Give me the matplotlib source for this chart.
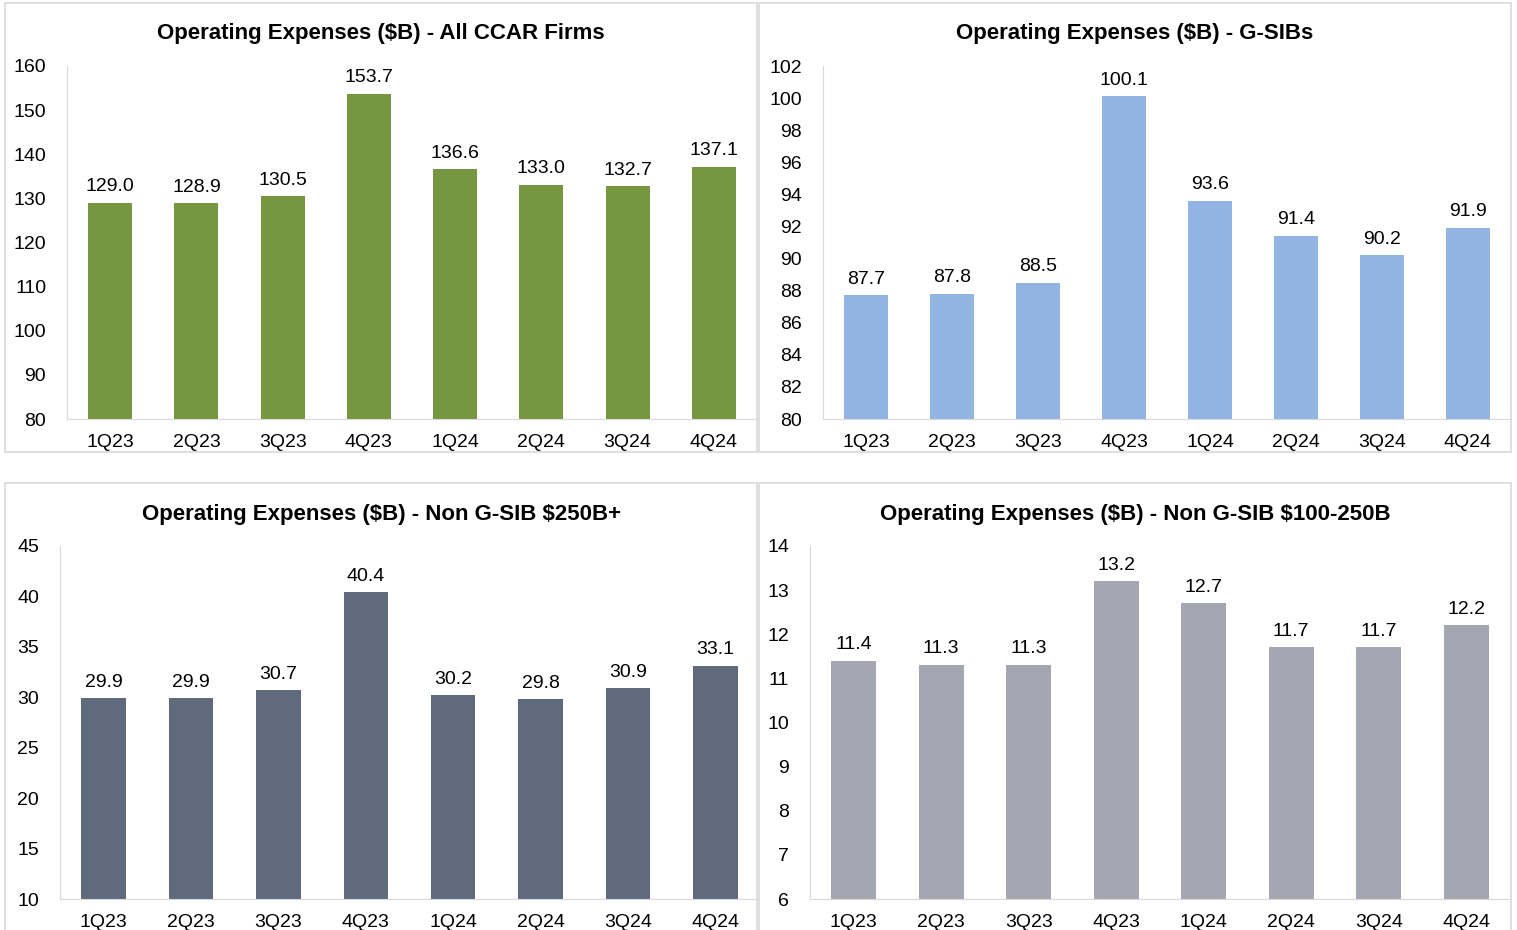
import matplotlib.pyplot as plt
from matplotlib.patches import Rectangle

plt.rcParams['font.family'] = ['Liberation Sans', 'DejaVu Sans']

quarters = ['1Q23', '2Q23', '3Q23', '4Q23', '1Q24', '2Q24', '3Q24', '4Q24']

all_ccar = [129.0, 128.9, 130.5, 153.7, 136.6, 133.0, 132.7, 137.1]
gsibs = [87.7, 87.8, 88.5, 100.1, 93.6, 91.4, 90.2, 91.9]
non_gsib_250 = [29.9, 29.9, 30.7, 40.4, 30.2, 29.8, 30.9, 33.1]
non_gsib_100 = [11.4, 11.3, 11.3, 13.2, 12.7, 11.7, 11.7, 12.2]

titles = [r'Operating Expenses (\$B) - All CCAR Firms',
          r'Operating Expenses (\$B) - G-SIBs',
          r'Operating Expenses (\$B) - Non G-SIB \$250B+',
          r'Operating Expenses (\$B) - Non G-SIB \$100-250B']

W, H = 1517, 930
fig = plt.figure(figsize=(W / 100, H / 100), dpi=100)

# panel boxes (pixels: left, top, right, bottom)
panels = [(5, 3, 757, 452), (759, 3, 1511, 452),
          (5, 483, 757, 935), (759, 483, 1511, 935)]
for l, t, r, b in panels:
    fig.patches.append(Rectangle((l / W, 1 - b / H), (r - l) / W, (b - t) / H,
                                 transform=fig.transFigure, fill=False,
                                 edgecolor='#d9d9d9', linewidth=1.2))

# axes positions in pixels: left, top, right, bottom
axes_px = [(67, 66, 757, 419), (823, 66, 1511, 419),
           (60, 546, 759, 899), (810, 546, 1510, 899)]
series = [all_ccar, gsibs, non_gsib_250, non_gsib_100]
colors = ['#76973f', '#92b4e2', '#5f6b7d', '#a4a6b2']
ylims = [(80, 160), (80, 102), (10, 45), (6, 14)]
ysteps = [10, 2, 5, 1]
title_y = [33, 33, 514, 514]

for i in range(4):
    l, t, r, b = axes_px[i]
    ax = fig.add_axes([l / W, 1 - b / H, (r - l) / W, (b - t) / H])
    x = range(len(quarters))
    ax.bar(x, series[i], width=0.51, color=colors[i])
    ax.set_xlim(-0.5, len(quarters) - 0.5)
    lo, hi = ylims[i]
    ax.set_ylim(lo, hi)
    ax.set_yticks(range(lo, hi + 1, ysteps[i]))
    ax.set_xticks(list(x))
    ax.set_xticklabels(quarters)
    ax.tick_params(length=0, labelsize=14, colors='black')
    ax.tick_params(axis='y', pad=15)
    ax.tick_params(axis='x', pad=11)
    for s in ['top', 'right']:
        ax.spines[s].set_visible(False)
    for s in ['left', 'bottom']:
        ax.spines[s].set_color('#d9d9d9')
    for xi, v in zip(x, series[i]):
        ax.annotate(f'{v:.1f}', (xi, v), xytext=(0, 5.5), textcoords='offset points',
                    ha='center', va='bottom', fontsize=14)
    pl, pt, pr, pb = panels[i]
    fig.text((pl + pr) / 2 / W, 1 - title_y[i] / H, titles[i], ha='center',
             va='center', fontsize=16, fontweight='bold')

fig.savefig('out.png', dpi=100)
